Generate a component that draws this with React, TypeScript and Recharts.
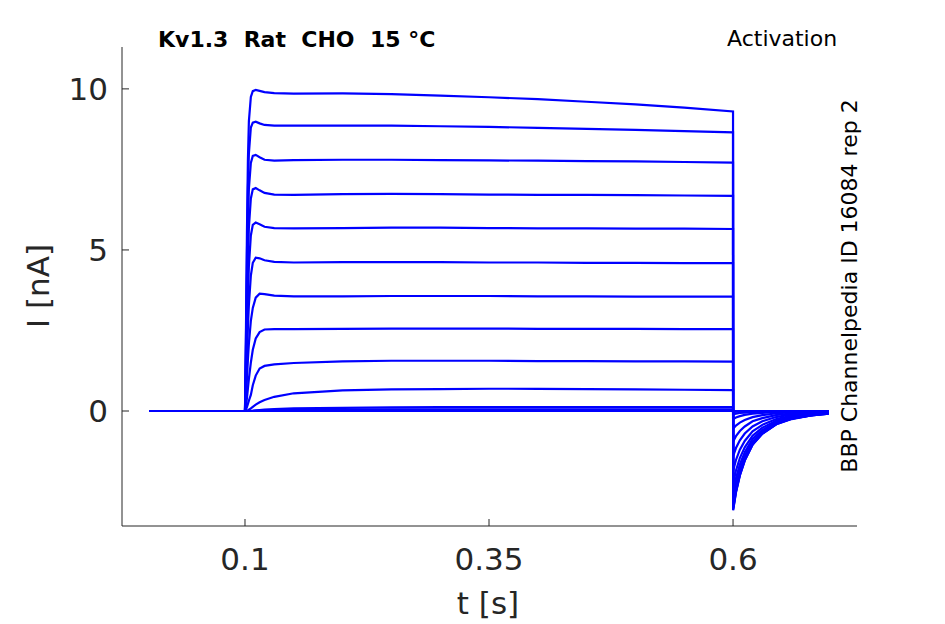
import React from 'react';
import { LineChart, Line, XAxis, YAxis } from 'recharts';

// time points [s]
const times = [
  0.002, 0.1, 0.101, 0.102, 0.103, 0.104, 0.106, 0.108, 0.111, 0.115, 0.12,
  0.13, 0.15, 0.2, 0.25, 0.3, 0.35, 0.4, 0.45, 0.5, 0.55, 0.6,
  0.6001, 0.603, 0.607, 0.612, 0.62, 0.63, 0.645, 0.66, 0.68, 0.698,
];

// currents [nA], one array per voltage step
const iP70 = [0, 0, 2.5, 5.5, 7.8, 9.0, 9.75, 9.93, 9.97, 9.94, 9.9, 9.87, 9.85, 9.86, 9.84, 9.79, 9.74, 9.68, 9.6, 9.52, 9.42, 9.3,
  -3.08, -2.53, -2.0, -1.54, -1.05, -0.71, -0.4, -0.25, -0.14, -0.08];
const iP60 = [0, 0, 2.2, 4.8, 6.9, 8.0, 8.8, 8.95, 8.98, 8.93, 8.88, 8.86, 8.86, 8.86, 8.86, 8.84, 8.82, 8.79, 8.76, 8.73, 8.69, 8.65,
  -3.06, -2.51, -1.99, -1.53, -1.04, -0.7, -0.4, -0.24, -0.14, -0.08];
const iP50 = [0, 0, 1.8, 4.0, 5.8, 6.9, 7.7, 7.92, 7.95, 7.88, 7.8, 7.77, 7.79, 7.8, 7.8, 7.79, 7.78, 7.77, 7.76, 7.75, 7.73, 7.71,
  -3.02, -2.48, -1.96, -1.51, -1.03, -0.69, -0.39, -0.24, -0.14, -0.08];
const iP40 = [0, 0, 1.4, 3.2, 4.7, 5.7, 6.6, 6.88, 6.92, 6.85, 6.77, 6.72, 6.71, 6.73, 6.74, 6.73, 6.72, 6.71, 6.71, 6.7, 6.69, 6.68,
  -2.93, -2.4, -1.9, -1.47, -1.0, -0.67, -0.38, -0.23, -0.13, -0.07];
const iP30 = [0, 0, 1.0, 2.4, 3.6, 4.5, 5.45, 5.78, 5.85, 5.8, 5.72, 5.68, 5.67, 5.68, 5.69, 5.69, 5.68, 5.67, 5.67, 5.66, 5.66, 5.65,
  -2.78, -2.28, -1.81, -1.39, -0.95, -0.64, -0.36, -0.22, -0.13, -0.07];
const iP20 = [0, 0, 0.7, 1.7, 2.6, 3.3, 4.2, 4.6, 4.76, 4.74, 4.68, 4.63, 4.61, 4.62, 4.62, 4.62, 4.61, 4.61, 4.6, 4.6, 4.59, 4.59,
  -2.55, -2.09, -1.66, -1.28, -0.87, -0.59, -0.33, -0.2, -0.11, -0.06];
const iP10 = [0, 0, 0.4, 1.0, 1.6, 2.1, 2.8, 3.2, 3.52, 3.64, 3.63, 3.58, 3.56, 3.56, 3.57, 3.57, 3.57, 3.56, 3.56, 3.55, 3.55, 3.55,
  -2.25, -1.85, -1.46, -1.13, -0.77, -0.52, -0.29, -0.18, -0.1, -0.06];
const iP0 = [0, 0, 0.15, 0.4, 0.7, 1.0, 1.5, 1.9, 2.25, 2.45, 2.53, 2.54, 2.54, 2.55, 2.56, 2.56, 2.56, 2.55, 2.55, 2.55, 2.54, 2.54,
  -1.85, -1.52, -1.2, -0.93, -0.63, -0.43, -0.24, -0.15, -0.08, -0.05];
const iM10 = [0, 0, 0.05, 0.12, 0.22, 0.32, 0.5, 0.8, 1.1, 1.32, 1.4, 1.45, 1.49, 1.54, 1.56, 1.56, 1.56, 1.55, 1.55, 1.54, 1.54, 1.53,
  -1.4, -1.15, -0.91, -0.7, -0.48, -0.32, -0.18, -0.11, -0.06, -0.04];
const iM20 = [0, 0, 0, 0.01, 0.02, 0.04, 0.08, 0.13, 0.2, 0.27, 0.34, 0.44, 0.55, 0.64, 0.67, 0.68, 0.69, 0.69, 0.68, 0.67, 0.66, 0.65,
  -0.95, -0.78, -0.62, -0.48, -0.32, -0.22, -0.12, -0.08, -0.04, -0.02];
const iM30 = [0, 0, 0, 0, 0, 0, 0.005, 0.01, 0.02, 0.03, 0.04, 0.06, 0.08, 0.1, 0.11, 0.12, 0.12, 0.12, 0.12, 0.12, 0.12, 0.12,
  -0.55, -0.45, -0.36, -0.28, -0.19, -0.13, -0.07, -0.04, -0.02, -0.01];
const iM40 = [0, 0, 0, 0, 0, 0, 0, 0, 0.005, 0.01, 0.015, 0.02, 0.03, 0.04, 0.05, 0.05, 0.05, 0.05, 0.05, 0.05, 0.05, 0.05,
  -0.25, -0.2, -0.16, -0.12, -0.08, -0.06, -0.03, -0.02, -0.01, 0];
const iM50 = [0, 0, 0, 0, 0, 0, 0, 0, 0, 0, 0.005, 0.008, 0.01, 0.015, 0.02, 0.02, 0.02, 0.02, 0.02, 0.02, 0.02, 0.02,
  -0.1, -0.08, -0.06, -0.05, -0.03, -0.02, -0.01, -0.01, 0, 0];
const iM60 = [0, 0, 0, 0, 0, 0, 0, 0, 0, 0, 0, 0, 0.005, 0.008, 0.01, 0.01, 0.01, 0.01, 0.01, 0.01, 0.01, 0.01,
  -0.03, -0.02, -0.02, -0.01, -0.01, 0, 0, 0, 0, 0];
const iM70 = [0, 0, 0, 0, 0, 0, 0, 0, 0, 0, 0, 0, 0, 0, 0, 0, 0, 0, 0, 0, 0, 0,
  -0.01, -0.01, 0, 0, 0, 0, 0, 0, 0, 0];
const iM80 = [0, 0, 0, 0, 0, 0, 0, 0, 0, 0, 0, 0, 0, 0, 0, 0, 0, 0, 0, 0, 0, 0,
  0, 0, 0, 0, 0, 0, 0, 0, 0, 0];

const traces: { key: string; values: number[] }[] = [
  { key: 'm80', values: iM80 },
  { key: 'm70', values: iM70 },
  { key: 'm60', values: iM60 },
  { key: 'm50', values: iM50 },
  { key: 'm40', values: iM40 },
  { key: 'm30', values: iM30 },
  { key: 'm20', values: iM20 },
  { key: 'm10', values: iM10 },
  { key: 'p0', values: iP0 },
  { key: 'p10', values: iP10 },
  { key: 'p20', values: iP20 },
  { key: 'p30', values: iP30 },
  { key: 'p40', values: iP40 },
  { key: 'p50', values: iP50 },
  { key: 'p60', values: iP60 },
  { key: 'p70', values: iP70 },
];

const xTicks = [0.1, 0.35, 0.6];
const yTicks = [0, 5, 10];
const xDomain = [-0.026, 0.727];
const yDomain = [-3.57, 11.3];

const rows = times.map((t, i) => {
  const r: Record<string, number> = { t };
  traces.forEach((tr) => {
    r[tr.key] = tr.values[i];
  });
  return r;
});

const FONT = '"DejaVu Sans", sans-serif';
const AX = '#262626';

export default function App() {
  return (
    <div style={{ position: 'absolute', left: 0, top: 0, width: 945, height: 624, background: '#fff', fontFamily: FONT }}>
      <LineChart width={945} height={624} data={rows} margin={{ top: 47, right: 88, bottom: 38, left: 42 }}>
        <XAxis
          type="number"
          dataKey="t"
          domain={xDomain}
          ticks={xTicks}
          allowDataOverflow
          height={60}
          tickSize={-7}
          tickMargin={29}
          stroke={AX}
          tick={{ fill: AX, fontSize: 31, fontFamily: FONT }}
          tickFormatter={(v: number) => String(v)}
        />
        <YAxis
          type="number"
          domain={yDomain}
          ticks={yTicks}
          allowDataOverflow
          width={80}
          tickSize={-7}
          tickMargin={21}
          stroke={AX}
          tick={{ fill: AX, fontSize: 31, fontFamily: FONT }}
        />
        {traces.map((tr) => (
          <Line
            key={tr.key}
            type="linear"
            dataKey={tr.key}
            stroke="#0000ff"
            strokeWidth={2.2}
            dot={false}
            activeDot={false}
            isAnimationActive={false}
          />
        ))}
      </LineChart>
      <svg width={945} height={624} style={{ position: 'absolute', left: 0, top: 0, pointerEvents: 'none' }}>
        <text x={158} y={46.7} fontSize={22} fontWeight="bold" fill="#000" fontFamily={FONT} style={{ whiteSpace: 'pre' }}>
          {'Kv1.3  Rat  CHO  15 °C'}
        </text>
        <text x={727} y={46} fontSize={22} fill="#000" fontFamily={FONT}>
          Activation
        </text>
        <text x={856.5} y={286} fontSize={22} fill="#000" fontFamily={FONT} textAnchor="middle" transform="rotate(-90 856.5 286)">
          BBP Channelpedia ID 16084 rep 2
        </text>
        <text x={49} y={286} fontSize={31} fill={AX} fontFamily={FONT} textAnchor="middle" transform="rotate(-90 49 286)">
          I [nA]
        </text>
        <text x={488} y={614} fontSize={31} fill={AX} fontFamily={FONT} textAnchor="middle">
          t [s]
        </text>
      </svg>
    </div>
  );
}
